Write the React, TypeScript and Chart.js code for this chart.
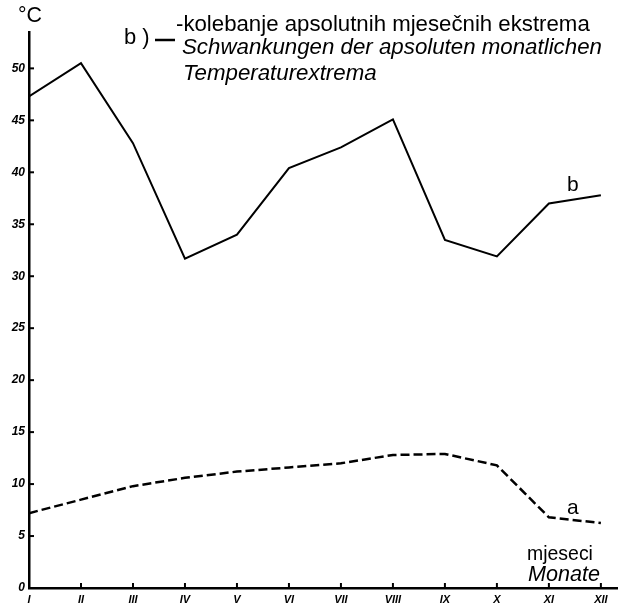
import React, { useEffect, useRef } from 'react';
import { Chart, registerables } from 'chart.js';

Chart.register(...registerables);

const monthLabels = ['I', 'II', 'III', 'IV', 'V', 'VI', 'VII', 'VIII', 'IX', 'X', 'XI', 'XII'];
const monthNumbers = [1, 2, 3, 4, 5, 6, 7, 8, 9, 10, 11, 12];
const seriesB = [47.3, 50.5, 42.8, 31.7, 34.0, 40.4, 42.4, 45.1, 33.5, 31.9, 37.0, 37.8];
const seriesA = [7.2, 8.5, 9.8, 10.6, 11.2, 11.6, 12.0, 12.8, 12.9, 11.8, 6.8, 6.25];
const yTickValues = [0, 5, 10, 15, 20, 25, 30, 35, 40, 45, 50];
const legendLines = [
  '-kolebanje apsolutnih mjesečnih ekstrema',
  'Schwankungen der apsoluten monatlichen',
  'Temperaturextrema',
];
const unitLabel = '°C';
const axisTitle = ['mjeseci', 'Monate'];

const FONT = '"Liberation Sans", Arial, sans-serif';

function fitSize(ctx: CanvasRenderingContext2D, text: string, width: number, style: string) {
  ctx.font = `${style} 20px ${FONT}`;
  const w = ctx.measureText(text).width;
  return (20 * width) / w;
}

function fitText(ctx: CanvasRenderingContext2D, text: string, x: number, y: number, width: number, style: string) {
  const size = fitSize(ctx, text, width, style);
  ctx.font = `${style} ${size.toFixed(2)}px ${FONT}`;
  ctx.fillText(text, x, y);
  return size;
}

const decorPlugin = {
  id: 'decor',
  afterDatasetsDraw(chart: any) {
    const ctx = chart.ctx as CanvasRenderingContext2D;
    const xs = chart.scales.x;
    const ys = chart.scales.y;
    const area = chart.chartArea;
    ctx.save();
    ctx.strokeStyle = '#000';
    ctx.lineWidth = 2;
    yTickValues.forEach((v) => {
      if (v === 0) return;
      const py = ys.getPixelForValue(v);
      ctx.beginPath();
      ctx.moveTo(area.left, py);
      ctx.lineTo(area.left + 5, py);
      ctx.stroke();
    });
    monthNumbers.forEach((m) => {
      if (m === 1) return;
      const px = xs.getPixelForValue(m);
      ctx.beginPath();
      ctx.moveTo(px, area.bottom);
      ctx.lineTo(px, area.bottom - 5);
      ctx.stroke();
    });
    ctx.restore();
  },
  afterDraw(chart: any) {
    const ctx = chart.ctx as CanvasRenderingContext2D;
    const xs = chart.scales.x;
    const ys = chart.scales.y;
    ctx.save();
    ctx.fillStyle = '#000';
    ctx.textBaseline = 'middle';
    ctx.textAlign = 'left';
    fitText(ctx, unitLabel, 18, 16, 24, 'normal');
    ctx.font = `normal 22px ${FONT}`;
    ctx.fillText('b )', 124, 38);
    ctx.strokeStyle = '#000';
    ctx.lineWidth = 2.5;
    ctx.beginPath();
    ctx.moveTo(155, 40);
    ctx.lineTo(175, 40);
    ctx.stroke();
    fitText(ctx, legendLines[0], 176, 25, 414, 'normal');
    const s2 = fitText(ctx, legendLines[1], 182, 48, 420, 'italic');
    ctx.font = `italic ${s2.toFixed(2)}px ${FONT}`;
    ctx.fillText(legendLines[2], 183, 74);
    ctx.font = `normal 21px ${FONT}`;
    ctx.fillText('b', xs.getPixelForValue(11.35), ys.getPixelForValue(38.8));
    ctx.fillText('a', xs.getPixelForValue(11.35), ys.getPixelForValue(7.7));
    fitText(ctx, axisTitle[0], 527, 555, 66, 'normal');
    fitText(ctx, axisTitle[1], 528, 575, 72, 'italic');
    ctx.restore();
  },
};

export default function App() {
  const canvasRef = useRef<HTMLCanvasElement | null>(null);

  useEffect(() => {
    const canvas = canvasRef.current;
    if (!canvas) return;
    const chart = new Chart(canvas, {
      type: 'line',
      data: {
        datasets: [
          {
            label: 'b',
            data: monthNumbers.map((m, i) => ({ x: m, y: seriesB[i] })),
            borderColor: '#000',
            borderWidth: 2,
            pointRadius: 0,
            tension: 0,
            fill: false,
          },
          {
            label: 'a',
            data: monthNumbers.map((m, i) => ({ x: m, y: seriesA[i] })),
            borderColor: '#000',
            borderWidth: 2.5,
            borderDash: [9, 4],
            pointRadius: 0,
            tension: 0,
            fill: false,
          },
        ],
      },
      options: {
        responsive: false,
        animation: false,
        devicePixelRatio: 1,
        layout: { padding: { top: 32, right: 3, left: 0, bottom: 0 } },
        plugins: {
          legend: { display: false },
          tooltip: { enabled: false },
          title: { display: false },
        },
        scales: {
          x: {
            type: 'linear',
            min: 1,
            max: 12.31,
            afterFit: (scale: any) => {
              scale.height = 21;
            },
            afterBuildTicks: (scale: any) => {
              scale.ticks = monthNumbers.map((v) => ({ value: v }));
            },
            grid: { display: false, drawTicks: false },
            border: { display: true, color: '#000', width: 2.5 },
            ticks: {
              autoSkip: false,
              maxRotation: 0,
              padding: 5,
              color: '#000',
              font: { family: FONT, size: 11, style: 'italic', weight: 'bold' },
              callback: (v: any) => monthLabels[Math.round(Number(v)) - 1] ?? '',
            },
          },
          y: {
            type: 'linear',
            min: 0,
            max: 53.5,
            afterFit: (scale: any) => {
              scale.width = 29;
            },
            afterBuildTicks: (scale: any) => {
              scale.ticks = yTickValues.map((v) => ({ value: v }));
            },
            grid: { display: false, drawTicks: false },
            border: { display: true, color: '#000', width: 2.5 },
            ticks: {
              padding: 4,
              color: '#000',
              font: { family: FONT, size: 12, style: 'italic', weight: 'bold' },
              callback: (v: any) => String(v),
            },
          },
        },
      },
      plugins: [decorPlugin],
    });
    return () => chart.destroy();
  }, []);

  return (
    <div style={{ position: 'fixed', left: 0, top: 0, width: 620, height: 609, background: '#fff' }}>
      <canvas ref={canvasRef} width={620} height={609} />
    </div>
  );
}
